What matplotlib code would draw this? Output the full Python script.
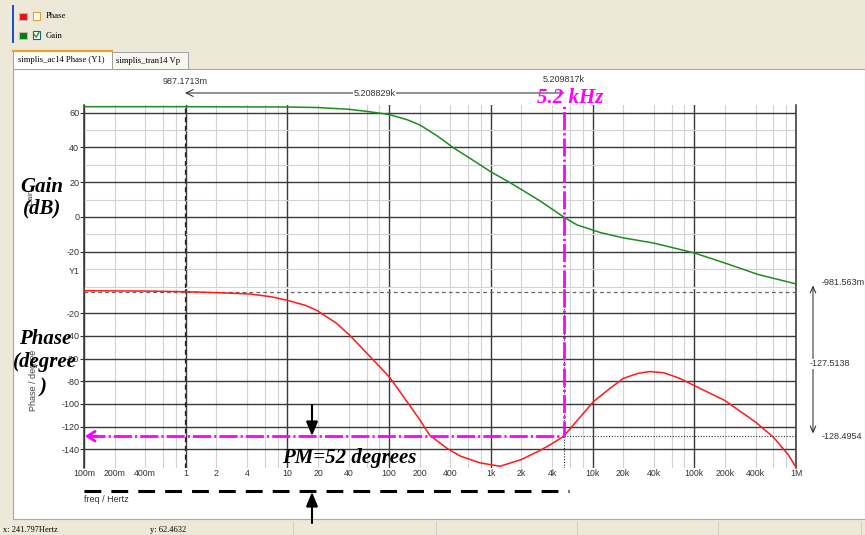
import numpy as np
import matplotlib.pyplot as plt
from matplotlib.patches import Rectangle
from matplotlib.ticker import LogLocator, FixedLocator, MultipleLocator, FuncFormatter, NullLocator

plt.rcParams['font.family'] = ['Liberation Sans', 'DejaVu Sans']
plt.rcParams['axes.unicode_minus'] = False

# loop gain (Hz, dB)
gain_freq = [0.1, 0.3, 1, 3, 10, 20, 40, 60, 100, 150, 200, 300, 425, 600, 1000,
             1540, 2000, 3000, 5200, 7000, 10000, 12000, 20000, 40000, 100000,
             200000, 420000, 1e6]
gain_db = [63.5, 63.5, 63.5, 63.4, 63.3, 63.0, 62.0, 60.8, 59.0, 56.0, 53.0, 46.5,
           40.0, 34.4, 26.0, 19.8, 15.8, 9.5, 0.0, -4.5, -7.5, -9.0, -12.0,
           -15.0, -20.7, -26.5, -33.0, -38.5]

# phase (Hz, degrees)
phase_freq = [0.1, 0.4, 1, 2, 4.3, 7, 10, 15, 19.4, 30, 41, 60, 100, 150, 200, 251,
              368, 500, 783, 1230, 2000, 3050, 4000, 5200, 7000, 10200, 14000,
              20000, 28000, 36700, 50000, 70000, 100000, 200000, 400000, 600000,
              850000, 1e6]
phase_deg = [-0.1, -0.4, -0.98, -1.8, -3.0, -5.5, -8.6, -13.0, -17.4, -28.5, -39.4,
             -55.0, -76.0, -98.0, -114.0, -127.7, -139.0, -146.0, -152.0, -155.0,
             -149.0, -141.0, -135.0, -128.5, -115.0, -98.0, -88.0, -77.5, -73.0,
             -71.4, -72.5, -77.0, -83.8, -97.0, -116.0, -129.4, -145.5, -156.0]

xtick_pos = [0.1, 0.2, 0.4, 1, 2, 4, 10, 20, 40, 100, 200, 400, 1e3, 2e3, 4e3,
             1e4, 2e4, 4e4, 1e5, 2e5, 4e5, 1e6]
xtick_lab = ['100m', '200m', '400m', '1', '2', '4', '10', '20', '40', '100', '200',
             '400', '1k', '2k', '4k', '10k', '20k', '40k', '100k', '200k', '400k', '1M']
gain_ticks = [-20, 0, 20, 40, 60]
phase_ticks = [-140, -120, -100, -80, -60, -40, -20]

# cursors
cursor_f = [0.9871713, 5209.817]
cursor_f_txt = ['987.1713m', '5.209817k']
cursor_df_txt = '5.208829k'
cursor_ph = [-0.981563, -128.4954]
cursor_ph_txt = ['-981.563m', '-128.4954']
cursor_dph_txt = '-127.5138'

W, H = 865, 535
G_LIM = (-41, 64.5)
P_LIM = (-156.5, 1.2)
BEIGE = '#ECE9D8'
MAGENTA = '#ff00ff'
SERIF = ['Liberation Serif', 'DejaVu Serif']

fig = plt.figure(figsize=(8.65, 5.35), dpi=100, facecolor=BEIGE)

# window furniture, pixel coords
bg = fig.add_axes([0, 0, 1, 1], zorder=-5)
bg.set_xlim(0, W)
bg.set_ylim(H, 0)
bg.axis('off')
bg.add_patch(Rectangle((13, 69), 852, 450, fc='white', ec='#a8a8a8', lw=0.8))
bg.add_patch(Rectangle((13, 50), 99, 19, fc='white', ec='#a0a0a0', lw=0.7))
bg.plot([13, 112], [50.5, 50.5], color='#f0a030', lw=1.6)
bg.add_patch(Rectangle((112, 52), 76, 17, fc='#f7f6f0', ec='#a0a0a0', lw=0.7))
bg.text(18, 60, 'simplis_ac14 Phase (Y1)', fontsize=6.2, family=SERIF, va='center')
bg.text(116, 61, 'simplis_tran14 Vp', fontsize=6.2, family=SERIF, va='center')
bg.add_patch(Rectangle((11.5, 5), 2.5, 38, fc='#1a4fd0', ec='none'))
bg.add_patch(Rectangle((19, 12.5), 7.5, 7.5, fc='#e81010', ec='#b8b8b8', lw=0.8))
bg.add_patch(Rectangle((33, 12), 7, 8, fc='white', ec='#e0a030', lw=0.8))
bg.text(46, 16.5, 'Phase', fontsize=6.2, family=SERIF, va='center')
bg.add_patch(Rectangle((19, 31.5), 7.5, 7.5, fc='#0a7a0a', ec='#b8b8b8', lw=0.8))
bg.add_patch(Rectangle((33, 31), 7, 8, fc='white', ec='#1c5a90', lw=0.8))
bg.plot([34.5, 36.2, 38.8], [34.8, 37.2, 32.5], color='#20a020', lw=1.0)
bg.text(46, 35.5, 'Gain', fontsize=6.2, family=SERIF, va='center')
for sx in [293, 436, 577, 718, 861]:
    bg.plot([sx, sx], [522, 535], color='#d2cfc2', lw=0.8)
bg.text(3, 530, 'x: 241.797Hertz', fontsize=6, family=SERIF, va='center')
bg.text(150, 530, 'y: 62.4632', fontsize=6, family=SERIF, va='center')

# plot panels
gy0, gy1 = 217 - G_LIM[1] * 1.7375, 217 - G_LIM[0] * 1.7375
py0, py1 = 290.6 - P_LIM[1] * 1.1333, 290.6 - P_LIM[0] * 1.1333
ax_g = fig.add_axes([84 / W, 1 - gy1 / H, 712 / W, (gy1 - gy0) / H])
ax_p = fig.add_axes([84 / W, 1 - py1 / H, 712 / W, (py1 - py0) / H])

lab = dict(zip(xtick_pos, xtick_lab))


def fmt(v, pos):
    for k, s in lab.items():
        if abs(np.log10(v) - np.log10(k)) < 1e-6:
            return s
    return ''


for ax in (ax_g, ax_p):
    ax.set_xscale('log')
    ax.set_xlim(0.1, 1e6)
    ax.xaxis.set_major_locator(LogLocator(base=10, numticks=20))
    ax.xaxis.set_minor_locator(LogLocator(base=10, subs=[2, 4, 6, 8], numticks=20))
    ax.xaxis.set_major_formatter(FuncFormatter(fmt))
    ax.xaxis.set_minor_formatter(FuncFormatter(fmt))
    ax.grid(which='major', axis='both', color='#3a3a3a', lw=1.0)
    ax.grid(which='minor', axis='x', color='#d2d2d2', lw=0.8)
    ax.set_axisbelow(True)
    for s in ('top', 'bottom'):
        ax.spines[s].set_visible(False)
    for s in ('left', 'right'):
        ax.spines[s].set_color('#333333')
        ax.spines[s].set_linewidth(1.1)
    ax.tick_params(axis='x', which='both', length=0, labelsize=6.3, colors='#333333', pad=1)
    ax.tick_params(axis='y', which='major', length=3, width=0.8, labelsize=6.5,
                   colors='#333333', pad=0.5)
    ax.tick_params(axis='y', which='minor', length=0)
    ax.set_facecolor('white')

ax_g.set_ylim(*G_LIM)
ax_g.yaxis.set_major_locator(FixedLocator(gain_ticks))
ax_g.yaxis.set_minor_locator(MultipleLocator(10))
ax_g.grid(which='minor', axis='y', color='#d2d2d2', lw=0.8)
ax_g.tick_params(axis='x', which='both', labelbottom=False)

ax_p.set_ylim(*P_LIM)
ax_p.yaxis.set_major_locator(FixedLocator(phase_ticks))
ax_p.yaxis.set_minor_locator(NullLocator())

ax_g.plot(gain_freq, gain_db, color='#1e8c1e', lw=1.1, zorder=4, clip_on=False)
ax_p.plot(phase_freq, phase_deg, color='#ff1a1a', lw=1.1, zorder=4, clip_on=False)

# cursor lines
for ax in (ax_g, ax_p):
    ax.axvline(cursor_f[0], color='#222222', lw=0.9, dashes=(4, 3), zorder=3)
ax_p.axvline(cursor_f[1], color='#222222', lw=0.8, dashes=(1, 1.5), zorder=3)
ax_p.axhline(cursor_ph[0], color='#666666', lw=0.9, dashes=(3, 2.5), zorder=3)
ax_p.plot([cursor_f[1], 1e6], [cursor_ph[1]] * 2, color='#333333', lw=0.8,
          dashes=(1, 1.5), zorder=3)
mdash = (6.5, 1.1, 0.8, 1.1)
ax_g.axvline(cursor_f[1], color=MAGENTA, lw=2, dashes=mdash, zorder=5)
ax_p.plot([cursor_f[1]] * 2, [P_LIM[1], cursor_ph[1]], color=MAGENTA, lw=2,
          dashes=mdash, zorder=5)
ax_p.plot([0.106, cursor_f[1]], [cursor_ph[1]] * 2, color=MAGENTA, lw=2,
          dashes=mdash, zorder=5)
ax_p.annotate('', xy=(0.102, cursor_ph[1]), xytext=(0.135, cursor_ph[1]),
              arrowprops=dict(arrowstyle='->,head_length=0.55,head_width=0.35',
                              color=MAGENTA, lw=2, shrinkA=0, shrinkB=0), zorder=6)

# cursor readouts above the gain panel
tr = ax_g.get_xaxis_transform()
ya = (gy1 - 93) / (gy1 - gy0)
ax_g.annotate('', xy=(cursor_f[0], ya), xycoords=tr, xytext=(cursor_f[1], ya),
              textcoords=tr, annotation_clip=False,
              arrowprops=dict(arrowstyle='->,head_length=0.5,head_width=0.25',
                              color='#222222', lw=0.7, shrinkA=0, shrinkB=0))
ax_g.text(np.sqrt(cursor_f[0] * cursor_f[1]), ya, cursor_df_txt, transform=tr,
          ha='center', va='center', fontsize=6.5, color='#333333', clip_on=False,
          bbox=dict(fc='white', ec='none', pad=0.6))
ax_g.text(cursor_f[0], (gy1 - 82) / (gy1 - gy0), cursor_f_txt[0], transform=tr,
          ha='center', va='center', fontsize=6.5, color='#333333', clip_on=False)
ax_g.text(cursor_f[1], (gy1 - 80) / (gy1 - gy0), cursor_f_txt[1], transform=tr,
          ha='center', va='center', fontsize=6.5, color='#333333', clip_on=False)

# cursor readouts right of the phase panel
ytr = ax_p.get_yaxis_transform()
xl = (813 - 84) / 712
xt = (822 - 84) / 712
ax_p.annotate('', xy=(xl, cursor_ph[0] + 5.5), xycoords=ytr,
              xytext=(xl, cursor_ph[1] + 2.5), textcoords=ytr, annotation_clip=False,
              arrowprops=dict(arrowstyle='<->,head_length=0.45,head_width=0.2',
                              color='#222222', lw=0.7, shrinkA=0, shrinkB=0))
ax_p.annotate(cursor_ph_txt[0], xy=(xt, cursor_ph[0]), xycoords=ytr,
              xytext=(0, 6.3), textcoords='offset points', va='center',
              fontsize=6.5, color='#333333', annotation_clip=False)
ax_p.text((810 - 84) / 712, (cursor_ph[0] + cursor_ph[1]) / 2, cursor_dph_txt,
          transform=ytr, va='center', fontsize=6.5, color='#333333', clip_on=False,
          bbox=dict(fc='white', ec='none', pad=0.5))
ax_p.text(xt, cursor_ph[1], cursor_ph_txt[1], transform=ytr, va='center',
          fontsize=6.5, color='#333333', clip_on=False)

# hand-made annotations on top
ov = fig.add_axes([0, 0, 1, 1], zorder=5)
ov.set_xlim(0, W)
ov.set_ylim(H, 0)
ov.axis('off')
ov.text(31, 197, 'Gain', rotation=90, fontsize=5.5, color='#444444', ha='center', va='center')
ov.text(33, 380, 'Phase / degree', rotation=90, fontsize=6.5, color='#444444',
        ha='center', va='center')
ov.text(80, 271, 'Y1', fontsize=6.5, color='#333333', ha='right', va='center')
ov.text(84, 500, 'freq / Hertz', fontsize=6.5, color='#333333', ha='left', va='center')

big = dict(family=SERIF, weight='bold', style='italic', fontsize=15, ha='center',
           va='baseline')
ov.text(42, 192, 'Gain', **big)
ov.text(42, 213, '(dB)', **big)
ov.text(45, 344, 'Phase', **big)
ov.text(45, 367, '(degree', **big)
ov.text(43, 392, ')', **big)
ov.text(349, 463, 'PM=52 degrees', **big)
ov.text(570, 103, '5.2 kHz', color=MAGENTA, **big)

ov.plot([84, 569], [491, 491], color='black', lw=2.2, dashes=(5.5, 3.3))
arr = dict(arrowstyle='-|>,head_length=0.85,head_width=0.35', color='black', lw=1.5,
           shrinkA=0, shrinkB=0)
ov.annotate('', xy=(312, 436), xytext=(312, 405), arrowprops=arr)
ov.annotate('', xy=(312, 492), xytext=(312, 523), arrowprops=arr)

fig.savefig('out.png', dpi=100, facecolor=fig.get_facecolor())
